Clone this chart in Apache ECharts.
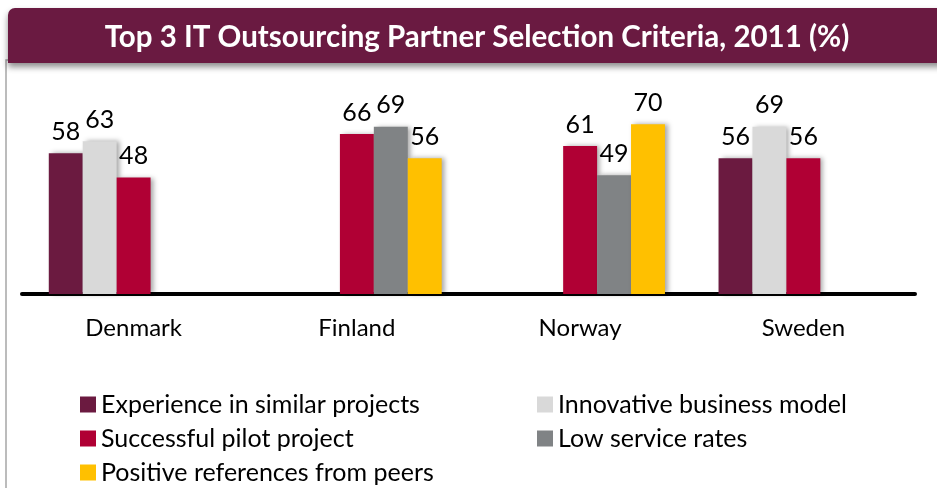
<!DOCTYPE html>
<html>
<head>
<meta charset="utf-8">
<style>
  html, body { margin: 0; padding: 0; background: #fff; }
  #chart { width: 937px; height: 488px; }
</style>
<script src="https://cdn.jsdelivr.net/npm/echarts@6/dist/echarts.min.js"></script>
</head>
<body>
<div id="chart"></div>
<script>
// chart data
const categories = ['Denmark', 'Finland', 'Norway', 'Sweden']
const experience = [58, null, null, 56]
const innovative = [63, null, null, 69]
const pilot = [48, 66, 61, 56]
const lowRates = [null, 69, 49, null]
const peers = [null, 56, 70, null]

const seriesNames = [
  'Experience in similar projects',
  'Innovative business model',
  'Successful pilot project',
  'Low service rates',
  'Positive references from peers'
]
const seriesColors = ['#6B1A40', '#D9D9D9', '#B00034', '#808385', '#FFC000']
const seriesData = [experience, innovative, pilot, lowRates, peers]

const font = 'Lato, "Open Sans", sans-serif'

const chart = echarts.init(document.getElementById('chart'))

const makeBar = (i) => ({
  name: seriesNames[i],
  type: 'bar',
  data: seriesData[i],
  barGap: '0%',
  barCategoryGap: '24%',
  itemStyle: {
    color: seriesColors[i],
    shadowColor: 'rgba(0, 0, 0, 0.35)',
    shadowBlur: 5,
    shadowOffsetX: 3,
    shadowOffsetY: 0
  },
  label: {
    show: true,
    position: 'top',
    distance: 9,
    fontSize: 25,
    fontFamily: font,
    color: '#000'
  }
})

const legendBase = {
  orient: 'vertical',
  top: 392,
  itemWidth: 16,
  itemHeight: 16,
  itemGap: 9,
  padding: 0,
  icon: 'rect',
  itemStyle: { shadowBlur: 0, shadowOffsetX: 0 },
  textStyle: { fontSize: 25, lineHeight: 24, fontFamily: font, color: '#000' }
}

chart.setOption({
  animation: false,
  graphic: [
    {
      type: 'rect',
      z: -10,
      shape: { x: 6, y: 60, width: 960, height: 460 },
      style: { fill: '#fff', stroke: '#a6a6a6', lineWidth: 1.5 }
    },
    {
      type: 'rect',
      z: -5,
      shape: { x: 8, y: 8, width: 960, height: 55, r: [7, 0, 0, 0] },
      style: {
        fill: '#6A1A41',
        shadowColor: 'rgba(0, 0, 0, 0.45)',
        shadowBlur: 6,
        shadowOffsetY: 4
      }
    },
    {
      type: 'text',
      x: 477,
      y: 37,
      style: {
        text: 'Top 3 IT Outsourcing Partner Selection Criteria, 2011 (%)',
        fill: '#fff',
        font: 'bold 29.5px ' + font,
        textAlign: 'center',
        textVerticalAlign: 'middle'
      }
    }
  ],
  legend: [
    Object.assign({}, legendBase, {
      left: 80,
      data: [seriesNames[0], seriesNames[2], seriesNames[4]]
    }),
    Object.assign({}, legendBase, {
      left: 537,
      data: [seriesNames[1], seriesNames[3]]
    })
  ],
  grid: { left: 22, right: 22, top: 100, bottom: 194 },
  xAxis: {
    type: 'category',
    data: categories,
    axisLine: { lineStyle: { color: '#000', width: 4 } },
    axisTick: { show: false },
    axisLabel: { fontSize: 24, fontFamily: font, color: '#000', margin: 22 }
  },
  yAxis: {
    type: 'value',
    min: 0,
    max: 80,
    show: false
  },
  series: seriesNames.map((_, i) => makeBar(i))
})
</script>
</body>
</html>
